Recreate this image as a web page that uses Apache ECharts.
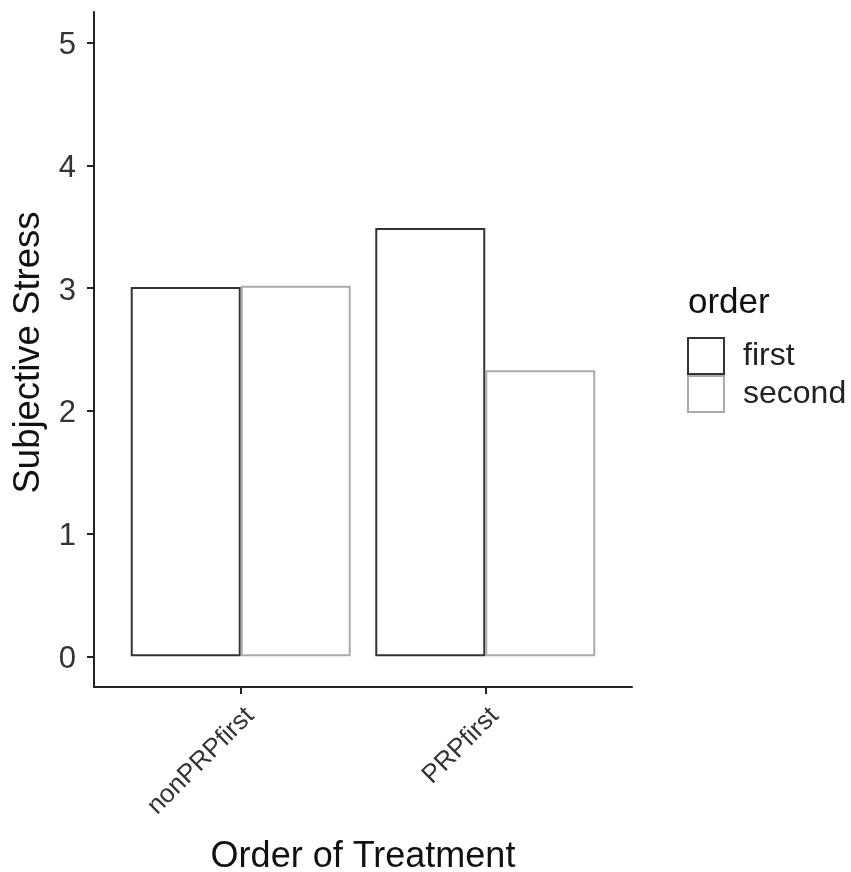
<!DOCTYPE html>
<html>
<head>
<meta charset="utf-8">
<script src="https://cdn.jsdelivr.net/npm/echarts@6.0.0/dist/echarts.min.js"></script>
<style>
html,body{margin:0;padding:0;background:#fff;}
#chart{width:851px;height:872px;}
</style>
</head>
<body>
<div id="chart"></div>
<script>
// Data
var categories = ['nonPRPfirst', 'PRPfirst'];
var categoryPositions = [1, 2];
var firstValues = [3.01, 3.49];
var secondValues = [3.02, 2.33];
var yTicks = [0, 1, 2, 3, 4, 5];
var seriesNames = ['first', 'second'];

var FONT = "'Liberation Sans', Arial, sans-serif";

function pairs(vals) {
  return vals.map(function (v, i) { return [categoryPositions[i], v]; });
}

var chart = echarts.init(document.getElementById('chart'), null, {renderer: 'canvas'});
chart.setOption({
  animation: false,
  backgroundColor: '#ffffff',
  title: {
    text: 'order',
    left: 683,
    top: 281,
    textStyle: {fontFamily: FONT, fontSize: 35, fontWeight: 'normal', color: '#111'}
  },
  legend: {
    orient: 'vertical',
    left: 682,
    top: 332,
    itemWidth: 36,
    itemHeight: 36,
    itemGap: 0,
    icon: 'rect',
    data: seriesNames,
    textStyle: {fontFamily: FONT, fontSize: 32, color: '#222', padding: [0, 0, 0, 14]}
  },
  grid: {
    left: 94, right: 219, top: 12, bottom: 185,
    containLabel: false,
    outerBoundsMode: 'none'
  },
  xAxis: {
    type: 'value',
    min: 0.4,
    max: 2.6,
    splitLine: {show: false},
    axisLine: {show: true, onZero: false, lineStyle: {color: '#222', width: 2}},
    axisTick: {show: true, length: 7, lineStyle: {color: '#222', width: 2}, customValues: categoryPositions},
    axisLabel: {
      customValues: categoryPositions,
      rotate: 45,
      margin: 16,
      verticalAlign: 'top',
      fontFamily: FONT,
      fontSize: 26,
      color: '#333',
      formatter: function (v) {
        var idx = categoryPositions.indexOf(Math.round(v));
        return idx >= 0 ? categories[idx] : '';
      }
    },
    name: 'Order of Treatment',
    nameLocation: 'middle',
    nameGap: 152,
    nameTextStyle: {fontFamily: FONT, fontSize: 36, color: '#111'}
  },
  yAxis: {
    type: 'value',
    min: -0.25,
    max: 5.25,
    splitLine: {show: false},
    axisLine: {show: true, onZero: false, lineStyle: {color: '#222', width: 2}},
    axisTick: {show: true, length: 7, lineStyle: {color: '#222', width: 2}, customValues: yTicks},
    axisLabel: {
      customValues: yTicks,
      margin: 18,
      fontFamily: FONT,
      fontSize: 31,
      color: '#333',
      formatter: function (v) { return '{t|' + v + '}'; },
      rich: {
        t: {fontFamily: FONT, fontSize: 31, color: '#333', padding: [6, 0, 0, 0]}
      }
    },
    name: 'Subjective Stress',
    nameLocation: 'middle',
    nameGap: 46,
    nameTextStyle: {fontFamily: FONT, fontSize: 36.5, color: '#111', padding: [0, 6, 0, 0]}
  },
  series: [
    {
      name: seriesNames[0],
      type: 'bar',
      data: pairs(firstValues),
      barWidth: 110,
      barGap: '0%',
      itemStyle: {color: '#ffffff', borderColor: '#333333', borderWidth: 2}
    },
    {
      name: seriesNames[1],
      type: 'bar',
      data: pairs(secondValues),
      barWidth: 110,
      barGap: '0%',
      itemStyle: {color: '#ffffff', borderColor: '#aaaaaa', borderWidth: 2}
    }
  ]
});
</script>
</body>
</html>
